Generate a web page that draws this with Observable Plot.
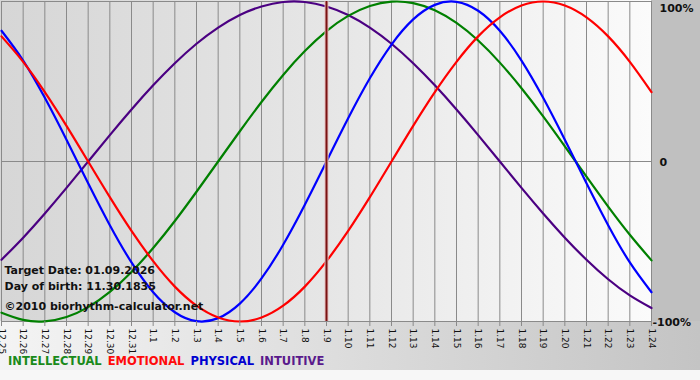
<!DOCTYPE html>
<html>
<head>
<meta charset="utf-8">
<script src="https://cdn.jsdelivr.net/npm/d3@7"></script>
<script src="https://cdn.jsdelivr.net/npm/@observablehq/plot@0.6"></script>
<style>
  body { margin: 0; background: #f7f7f7; font-family: "DejaVu Sans", Verdana, sans-serif; }
  #wrap { position: relative; width: 700px; height: 380px; overflow: hidden; background: #f7f7f7; }
  .bg { position: absolute; }
  #chart { position: absolute; left: 0; top: 0; }
  #legend { position: absolute; left: 8px; top: 354px; font-size: 11.5px; font-weight: bold; white-space: nowrap; }
  #legend span { margin-right: 6px; }
</style>
</head>
<body>
<div id="wrap">
  <div class="bg" style="left:0;top:0;width:651px;height:321px;background:linear-gradient(to right,#d6d6d6,#e6e6e6 50%,#fbfbfb);"></div>
  <div class="bg" style="left:0;top:321px;width:700px;height:49px;background:linear-gradient(to right,#f4f4f4,#c4c4c4);"></div>
  <div class="bg" style="left:651px;top:0;width:49px;height:321px;background:#c0c0c0;"></div>
  <div id="chart"></div>
  <div id="legend"></div>
</div>
<script>
const days = ["12.25","12.26","12.27","12.28","12.29","12.30","12.31","1.1","1.2","1.3","1.4","1.5","1.6","1.7","1.8","1.9","1.10","1.11","1.12","1.13","1.14","1.15","1.16","1.17","1.18","1.19","1.20","1.21","1.22","1.23","1.24"];
const physical = [0.817,0.631,0.398,0.136,-0.136,-0.398,-0.631,-0.817,-0.942,-0.998,-0.979,-0.888,-0.731,-0.520,-0.270,0,0.270,0.520,0.731,0.888,0.979,0.998,0.942,0.817,0.631,0.398,0.136,-0.136,-0.398,-0.631,-0.817];
const emotional = [0.782,0.623,0.434,0.223,0,-0.223,-0.434,-0.623,-0.782,-0.901,-0.975,-1,-0.975,-0.901,-0.782,-0.623,-0.434,-0.223,0,0.223,0.434,0.623,0.782,0.901,0.975,1,0.975,0.901,0.782,0.623,0.434];
const intellectual = [-0.945,-0.990,-0.999,-0.972,-0.910,-0.815,-0.690,-0.541,-0.372,-0.189,0,0.189,0.372,0.541,0.690,0.815,0.910,0.972,0.999,0.990,0.945,0.866,0.756,0.618,0.458,0.282,0.095,-0.095,-0.282,-0.458,-0.618];
const intuitive = [-0.614,-0.476,-0.325,-0.165,0,0.165,0.325,0.476,0.614,0.736,0.837,0.916,0.969,0.997,0.997,0.969,0.916,0.837,0.736,0.614,0.476,0.325,0.165,0,-0.165,-0.325,-0.476,-0.614,-0.736,-0.837,-0.916];
const seriesNames = ["INTELLECTUAL","EMOTIONAL","PHYSICAL","INTUITIVE"];
const targetDay = "1.9";
const infoLines = ["Target Date: 01.09.2026","Day of birth: 11.30.1835","\u00A92010 biorhythm-calculator.net"];
const yTickValues = [1, 0, -1];
const yTickLabels = ["100%", "0", "-100%"];

const colors = {INTELLECTUAL:"#008000", EMOTIONAL:"#ff0000", PHYSICAL:"#0000ff", INTUITIVE:"#4b0082"};
const legendColors = {INTELLECTUAL:"#1a8a1a", EMOTIONAL:"#ff0a0a", PHYSICAL:"#0000d0", INTUITIVE:"#5a1a8c"};
const valuesBy = {INTELLECTUAL:intellectual, EMOTIONAL:emotional, PHYSICAL:physical, INTUITIVE:intuitive};
const drawOrder = ["INTUITIVE","INTELLECTUAL","PHYSICAL","EMOTIONAL"];

const idx = days.map((d, i) => i);
const rows = [];
for (const s of drawOrder) days.forEach((d, i) => rows.push({i, value: valuesBy[s][i], series: s}));

const yLab = yTickValues.map((v, i) => ({v, label: yTickLabels[i]}));
const infoY = [-0.68, -0.78, -0.905];
const targetIdx = days.indexOf(targetDay);
const lastIdx = days.length - 1;

const chart = Plot.plot({
  width: 700,
  height: 350,
  marginTop: 1,
  marginBottom: 29,
  marginLeft: 1,
  marginRight: 49,
  style: {background: "transparent", fontFamily: "DejaVu Sans, Verdana, sans-serif", overflow: "visible"},
  x: {domain: [0, lastIdx], axis: null},
  y: {domain: [-1, 1], axis: null},
  marks: [
    Plot.ruleX(idx, {stroke: "#8a8a8a", strokeWidth: 1}),
    Plot.ruleY([0], {stroke: "#8a8a8a", strokeWidth: 1}),
    Plot.frame({stroke: "#8a8a8a", strokeWidth: 1}),
    Plot.line(rows, {x: "i", y: "value", z: "series", stroke: d => colors[d.series], strokeWidth: 2.2, curve: "natural"}),
    Plot.ruleX([targetIdx], {stroke: "#e8c0c0", strokeWidth: 4}),
    Plot.ruleX([targetIdx], {stroke: "#7a1212", strokeWidth: 2}),
    Plot.text(infoLines, {text: d => d, frameAnchor: "left", dx: 3, fontSize: 11, fontWeight: "bold", fill: "#111", y: (d, i) => infoY[i]}),
    Plot.axisX({anchor: "bottom", ticks: idx, tickFormat: i => days[i], tickRotate: 90, tickSize: 5, tickPadding: 2, fontSize: 9, stroke: "#8a8a8a", fill: "#111", label: null}),
    Plot.text(yLab.filter(d => d.v === 1), {x: () => lastIdx, y: "v", text: "label", textAnchor: "start", dx: 8, dy: 7, fontSize: 11, fontWeight: "bold", fill: "#111"}),
    Plot.text(yLab.filter(d => d.v === 0), {x: () => lastIdx, y: "v", text: "label", textAnchor: "start", dx: 8, dy: 1, fontSize: 11, fontWeight: "bold", fill: "#111"}),
    Plot.text(yLab.filter(d => d.v === -1), {x: () => lastIdx, y: "v", text: "label", textAnchor: "start", dx: 1, dy: 1, fontSize: 11, fontWeight: "bold", fill: "#111"})
  ]
});
document.getElementById("chart").appendChild(chart);

const legend = document.getElementById("legend");
for (const s of seriesNames) {
  const sp = document.createElement("span");
  sp.textContent = s;
  sp.style.color = legendColors[s];
  legend.appendChild(sp);
}
</script>
</body>
</html>
